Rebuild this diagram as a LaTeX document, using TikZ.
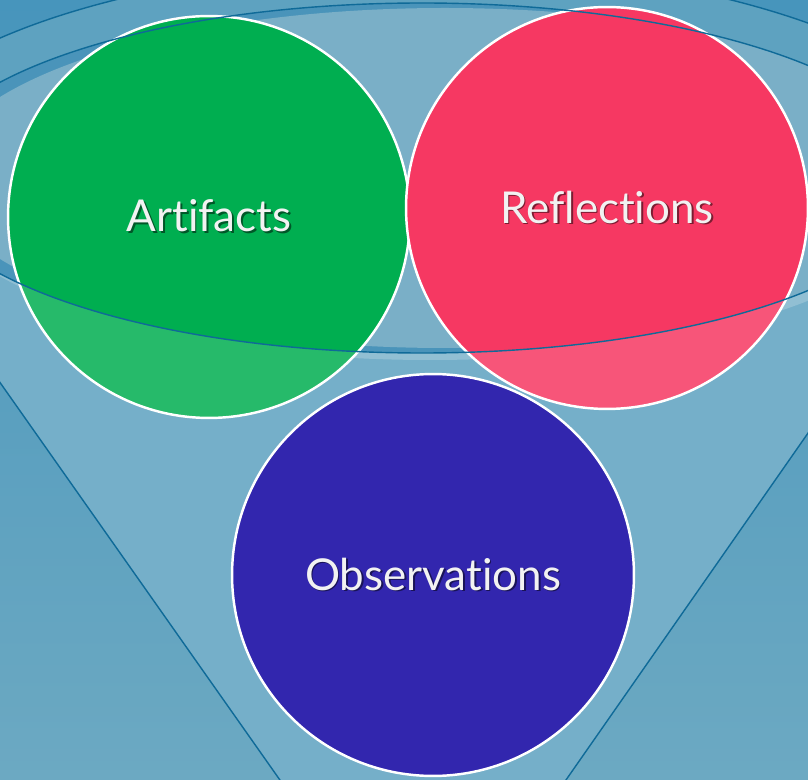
\documentclass[tikz,border=0pt]{standalone}
\usepackage{fontspec}
\setmainfont{Lato}[Ligatures={NoCommon,NoDiscretionary,NoContextual}]
\usepackage{tikz}
\usetikzlibrary{positioning}

\definecolor{bgtop}{HTML}{4795BC}
\definecolor{bgbottom}{HTML}{6CA9C2}
\definecolor{funnelbody}{HTML}{5EA2C0}
\definecolor{mouthshade}{HTML}{4A94BA}
\definecolor{mouthfill}{HTML}{7AAFC7}
\definecolor{rimline}{HTML}{0F6A98}
\definecolor{artgreen}{HTML}{00AE50}
\definecolor{refred}{HTML}{F63862}
\definecolor{obsblue}{HTML}{3226AE}
\definecolor{labeltext}{HTML}{F2F2F2}

% label with a small drop shadow behind it
\newcommand{\shadowed}[2]{\makebox[0pt][l]{\hspace{1pt}\raisebox{-1pt}{\textcolor{#1}{#2}}}#2}

\begin{document}
\begin{tikzpicture}[
    x=0.02cm, y=-0.02cm,
    bubble/.style={circle, draw=white, line width=1.4pt, minimum size=8.04cm, inner sep=0pt, text=labeltext, font=\fontsize{25}{30}\selectfont},
    rim/.style={draw=rimline, line width=0.8pt},
    veil/.style={fill=white, fill opacity=0.15}
]
\useasboundingbox (0,0) rectangle (808,780);
\clip (0,0) rectangle (808,780);

% Background
\shade[top color=bgtop, bottom color=bgbottom] (0,0) rectangle (808,780);

% === Funnel ===
\coordinate (lt) at (-144,178);
\coordinate (lb) at (294,800);
\coordinate (rt) at (986,178);
\coordinate (rb) at (552,800);
\coordinate (mouth) at (422,178);
\coordinate (brim) at (423,178);

\fill[funnelbody] (lt) -- (rt) -- (rb) -- (lb) -- cycle;
\fill[funnelbody] (brim) ellipse [x radius=561, y radius=213];

% mouth, shaded under the back lip
\fill[mouthshade] (mouth) ellipse [x radius=504, y radius=175];
\begin{scope}
  \clip (mouth) ellipse [x radius=504, y radius=175];
  \fill[mouthfill] (445,178) ellipse [x radius=506, y radius=170];
\end{scope}

% light edge under the front lip
\begin{scope}
  \clip (-200,178) rectangle (1000,800);
  \fill[white, fill opacity=0.2, even odd rule] (430,185) ellipse [x radius=504, y radius=175]
    (mouth) ellipse [x radius=504, y radius=175];
\end{scope}

% === Top circles ===
\node[bubble, fill=artgreen] (artifacts) at (209,217) {\shadowed{artgreen!50!black}{Artifacts}};
\node[bubble, fill=refred] (reflections) at (607,208) {\shadowed{refred!50!black}{Reflections}};

% front wall of the funnel
\fill[veil] (-82,178) arc [start angle=180, end angle=0, x radius=504, y radius=175]
  -- (rt) -- (rb) -- (lb) -- (lt) -- cycle;

% outlines
\draw[rim] (mouth) ellipse [x radius=504, y radius=175];
\draw[rim] (-138,178) arc [start angle=180, end angle=360, x radius=561, y radius=213];
\draw[rim] (lt) -- (lb);
\draw[rim] (rt) -- (rb);

% === Bottom circle ===
\node[bubble, fill=obsblue] (observations) at (433,575) {\shadowed{obsblue!50!black}{Observations}};

\end{tikzpicture}
\end{document}
